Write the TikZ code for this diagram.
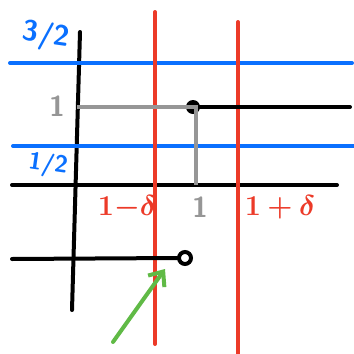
\documentclass[tikz,border=0pt]{standalone}
\usepackage{amsmath}
\usepackage{bm}
\usetikzlibrary{arrows.meta}
\definecolor{penblue}{RGB}{10,112,255}
\definecolor{penred}{RGB}{236,58,40}
\definecolor{pengreen}{RGB}{96,186,70}
\definecolor{pengray}{RGB}{150,150,150}
\begin{document}
\begin{tikzpicture}[x=0.5pt,y=-0.5pt,line cap=round,
  pen/.style={line width=2pt},
  lbl/.style={font=\Large\sffamily\bfseries}]
 \useasboundingbox (0,0) rectangle (354,354);
 % axes
 \coordinate (ytop) at (80,32);
 \coordinate (ybot) at (72,310);
 \coordinate (xl) at (12,185);
 \coordinate (xr) at (337,185);
 \draw[pen] (ytop) -- (ybot);
 \draw[pen] (xl) -- (xr);
 % levels 3/2 and 1/2
 \coordinate (bl1) at (10,63);  \coordinate (br1) at (352,63);
 \coordinate (bl2) at (13,146); \coordinate (br2) at (354,146);
 \draw[pen,penblue] (bl1) -- (br1);
 \draw[pen,penblue] (bl2) -- (br2);
 % 1-delta and 1+delta
 \coordinate (ra) at (155,12);  \coordinate (rb) at (155,344);
 \coordinate (rc) at (238,22);  \coordinate (rd) at (238,354);
 \draw[pen,penred] (ra) -- (rb);
 \draw[pen,penred] (rc) -- (rd);
 % step
 \coordinate (jump) at (193,107);
 \coordinate (stepr) at (350,107);
 \fill (jump) circle (7);
 \draw[pen] (jump) -- (stepr);
 \coordinate (gl) at (77,107);
 \coordinate (gc) at (196,107);
 \coordinate (gb) at (196,185);
 \draw[pen,pengray,line cap=butt] (gl) -- (gc) -- (gb);
 % lower piece with open end
 \coordinate (lowl) at (12,259);
 \node[circle,draw,pen,inner sep=0pt,minimum size=6pt] (open) at (185,258) {};
 \draw[pen] (lowl) -- (open.west);
 % arrow
 \coordinate (gs) at (113,342);
 \coordinate (gt) at (165,269);
 \draw[pen,pengreen,-{Straight Barb[length=6pt,width=10pt]}] (gs) -- (gt);
 % labels
 \node[lbl,penblue,rotate=-8] (l32) at (46,36) {3/2};
 \node[lbl,penblue,font=\large\sffamily\bfseries,rotate=-8] (l12) at (48,165) {1/2};
 \node[lbl,pengray] (one) at (57,106) {1};
 \node[lbl,pengray] (onex) at (200,207) {1};
 \node[lbl,penred] (lm) at (127,207) {$\bm{1{-}\delta}$};
 \node[lbl,penred] (lp) at (280,207) {$\bm{1+\delta}$};
\end{tikzpicture}
\end{document}
